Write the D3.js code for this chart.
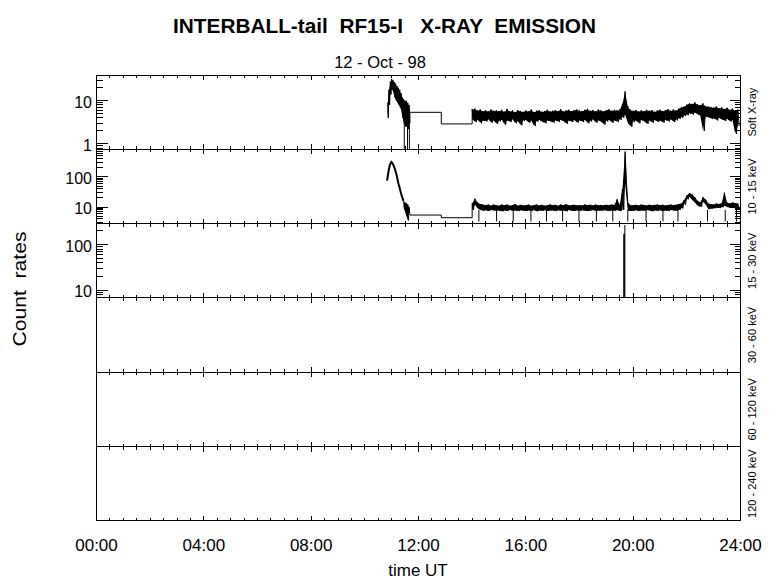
<!DOCTYPE html>
<html><head><meta charset="utf-8">
<script src="https://cdn.jsdelivr.net/npm/d3@7"></script>
<style>
body{margin:0;background:#fff}
svg{display:block}
text{font-family:"Liberation Sans",Arial,sans-serif;fill:#000;white-space:pre}
</style>
</head><body>
<svg id="c" width="780" height="579"></svg>
<script>
// ---------------- DATA ----------------
const xTickLabels = ["00:00","04:00","08:00","12:00","16:00","20:00","24:00"];
const xTickHours  = [0,4,8,12,16,20,24];
const channelLabels = ["Soft X-ray","10 - 15 keV","15 - 30 keV","30 - 60 keV","60 - 120 keV","120 - 240 keV"];
const yDomains = [[0.748,39.6],[2.8,835],[6.8,290]];
const yTickLabels = [[1,10],[10,100],[10,100]];

// Soft X-ray: flare envelope (hours, max, min)
const sxFlareT  = [10.85,10.90,10.95,11.00,11.05,11.10,11.15,11.20,11.25,11.30,11.35,11.40,11.45,11.50,11.55,11.60,11.65];
const sxFlareHi = [9,18,28,32,30,27,25,22,20,18,15,12,11,10,10,9,8];
const sxFlareLo = [4,8,14,18,16,12,10,9,8,7,6,4,3,2.5,2.5,2.2,3];
const sxFlareDropT = [11.47,11.59,11.66];
// Soft X-ray: data-gap plateau corners
const sxStepT = [11.68,12.85,12.85,14.0];
const sxStepV = [5.4,5.4,2.9,2.9];
// Soft X-ray: noise band 14.0 .. 23.9 h every 0.1 h (max / min)
const sxHi = [6.4,6.6,6.0,6.3,5.8,6.1,5.7,6.3,5.9,6.0,
              5.8,6.2,5.6,6.5,5.7,6.0,5.5,6.1,5.8,5.6,
              6.0,5.7,6.3,5.5,5.9,6.1,5.6,5.8,6.2,5.7,
              5.9,6.1,5.8,6.4,5.7,6.0,6.2,5.8,6.1,6.3,
              6.0,5.8,6.2,6.5,5.9,6.1,5.7,6.3,6.0,5.8,
              6.1,6.4,5.9,6.2,6.0,6.3,8.5,16.5,7.5,6.2,
              5.9,6.1,5.7,6.0,5.8,6.2,5.9,6.1,5.6,6.0,
              6.2,5.8,6.1,6.4,5.9,6.3,6.0,6.6,7.2,7.4,
              8.2,8.8,8.5,9.2,8.3,8.0,8.7,7.6,7.4,7.2,
              7.0,7.4,6.8,7.1,6.5,6.9,6.2,6.6,6.0,6.3];
const sxLo = [3.6,3.2,3.5,3.0,3.4,3.3,3.6,3.1,3.4,2.9,
              3.3,3.5,2.8,3.4,3.2,3.6,3.0,3.3,2.7,3.4,
              3.5,3.1,3.4,2.6,3.3,3.5,3.2,3.0,3.4,3.3,
              3.1,3.4,3.2,3.5,3.3,2.9,3.4,3.2,3.5,3.1,
              3.4,3.2,3.5,3.0,3.3,3.6,3.1,3.4,3.2,2.8,
              3.3,3.5,3.1,3.4,3.2,3.6,4.0,4.6,3.0,2.5,
              3.2,3.4,3.0,3.5,3.3,2.9,3.4,3.1,3.5,3.2,
              3.4,3.1,3.5,3.3,3.6,3.2,3.5,3.8,4.0,4.4,
              4.6,5.0,4.8,5.2,4.7,4.4,2.0,4.2,4.0,3.8,
              3.8,3.5,3.9,3.6,3.4,3.7,3.3,3.5,1.7,2.6];

// 10-15 keV: flare profile
const hxFlareT = [10.83,10.88,10.93,10.99,11.04,11.09,11.13,11.19,11.25,11.30,11.35,11.40,11.44];
const hxFlareV = [75,150,250,316,280,220,175,110,62,42,28,20,16];
const hxTailT  = [11.45,11.50,11.55,11.60,11.65];
const hxTailHi = [15,14,13,12,10];
const hxTailLo = [9,7,5,3.6,6];
const hxStepT = [11.68,12.85,12.85,14.0];
const hxStepV = [5.4,5.4,4.4,4.4];
const hxHi = [13,19,14,12.5,12,11.5,12,11,12,11.5,
              11,12,11.5,12,11,11.5,12.5,11,11.8,11.2,
              11.5,12,11,11.6,12,11.2,11.8,11,11.5,12,
              11.4,11.8,11,12,11.5,12.5,11.2,11.6,11.8,11.3,
              11.6,11.2,12.2,11.5,11.8,11.3,12,11.4,11.7,11.5,
              11.8,11.4,12,11.6,18,11.8,40,700,14,11.5,
              11.5,11.8,11.2,12,11.6,11.3,11.9,11.4,11.7,12,
              11.5,11.8,11.2,11.7,12,11.4,11.8,12.5,13,17,
              24,29,26,21,16,14,21,18,13,12.5,
              12,13,12.5,13.5,30,14,13,14,13.5,13];
const hxLo = [8,12,9,8,7.5,7.8,7.4,7.9,7.6,7.8,
              7.5,7.2,7.7,7.4,7.9,7.5,7.6,7.3,7.8,7.5,
              7.4,7.7,7.5,7.9,7.2,7.6,7.5,7.8,7.4,7.7,
              7.6,7.3,7.8,7.5,7.7,7.2,7.9,7.5,7.4,7.7,
              7.5,7.8,7.5,7.3,7.7,7.9,7.4,7.6,7.5,7.8,
              7.6,7.4,7.7,7.5,7.9,7.4,8,60,7.6,7.3,
              7.5,7.8,7.4,7.7,7.5,7.9,7.6,7.2,7.7,7.5,
              7.8,7.4,7.7,7.3,7.9,7.6,7.5,8.0,9,12,
              18,22,17,14,11,10,15,12,8.5,8.8,
              9,9.5,9.2,9.8,11,10,9.5,10,9.2,8.8];
const hxDropT = [14.25,14.91,15.53,16.19,16.77,17.37,17.98,18.63,19.24,19.80,20.48,21.11,21.67,22.77,23.43,23.85];
const hxDropV = 3.3;

// 15-30 keV: spike only
const mxSpikeT = [19.65,19.67,19.69];
const mxSpikeV = [170,175,270];

// ---------------- CHART ----------------
const svg = d3.select('#c');
const x = d3.scaleLinear().domain([0,24]).range([96.5,740.5]);
const top0 = 75, ph = 74.3, nP = 6;
const pTop = i => top0 + i*ph;
const pBot = i => top0 + (i+1)*ph;

const ys = yDomains.map((d,i)=>d3.scaleLog().domain(d).range([pBot(i),pTop(i)]));

const defs = svg.append('defs');
for (let i=0;i<nP;i++){
  defs.append('clipPath').attr('id','cp'+i).append('rect')
    .attr('x',x(0)).attr('y',pTop(i)).attr('width',x(24)-x(0)).attr('height',ph);
}

// helpers
function zig(ts,hi,lo,half){const p=[];ts.forEach((t,i)=>{p.push([t,hi[i]]);p.push([t+half,lo[i]]);});return p;}
const line = y => d3.line().x(d=>x(d[0])).y(d=>y(d[1]));
function band(g,y,ts,hi,lo,k){
  const d=ts.map((t,i)=>({t,hi:hi[i],lo:lo[i]}));
  const ar=d3.area().x(p=>x(p.t)).y0(p=>y(p.lo*k)).y1(p=>y(p.hi/k));
  g.append('path').attr('d',ar(d)).attr('fill','#000').attr('stroke','none');
}
const dataG = svg.append('g').attr('fill','none').attr('stroke','#000').attr('stroke-width',1);

// panel 1
{
  const y=ys[0];
  const g=dataG.append('g').attr('clip-path','url(#cp0)');
  const nT=sxHi.map((_,i)=>14+i*0.1);
  band(g,y,sxFlareT,sxFlareHi,sxFlareLo,1.05);
  band(g,y,nT,sxHi,sxLo,1.03);
  const pts=[].concat(zig(sxFlareT,sxFlareHi,sxFlareLo,0.025), sxStepT.map((t,i)=>[t,sxStepV[i]]), zig(nT,sxHi,sxLo,0.05));
  g.append('path').attr('d',line(y)(pts));
  sxFlareDropT.forEach(t=>g.append('line').attr('x1',x(t)).attr('x2',x(t)).attr('y1',y(5)).attr('y2',pBot(0)));
}
// panel 2
{
  const y=ys[1];
  const g=dataG.append('g').attr('clip-path','url(#cp1)');
  const nT=hxHi.map((_,i)=>14+i*0.1);
  band(g,y,hxTailT,hxTailHi,hxTailLo,1.0);
  band(g,y,nT,hxHi,hxLo,1.0);
  g.append('path').attr('d',line(y)(hxFlareT.map((t,i)=>[t,hxFlareV[i]]))).attr('stroke-width',2);
  const pts=[].concat([[hxFlareT[hxFlareT.length-1],hxFlareV[hxFlareV.length-1]]], zig(hxTailT,hxTailHi,hxTailLo,0.025),
    hxStepT.map((t,i)=>[t,hxStepV[i]]), zig(nT,hxHi,hxLo,0.05));
  g.append('path').attr('d',line(y)(pts));
  hxDropT.forEach(t=>g.append('line').attr('x1',x(t)).attr('x2',x(t)).attr('y1',y(8)).attr('y2',y(hxDropV)));
}
// panel 3
{
  const y=ys[2];
  const g=dataG.append('g').attr('clip-path','url(#cp2)');
  mxSpikeT.forEach((t,i)=>g.append('line').attr('x1',x(t)).attr('x2',x(t)).attr('y1',y(mxSpikeV[i])).attr('y2',pBot(2)));
}

// frame & ticks
const frame = svg.append('g').attr('shape-rendering','crispEdges').attr('stroke','#000').attr('stroke-width',1).attr('fill','none');
for (let i=0;i<nP;i++){
  frame.append('rect').attr('x',x(0)).attr('y',pTop(i)).attr('width',x(24)-x(0)).attr('height',ph);
  const xt = d3.range(0,24.001,0.5);
  xt.forEach(t=>{
    const major = Math.abs(t%4)<1e-6;
    const len = major?5:3;
    frame.append('line').attr('x1',x(t)).attr('x2',x(t)).attr('y1',pTop(i)).attr('y2',pTop(i)+len);
    frame.append('line').attr('x1',x(t)).attr('x2',x(t)).attr('y1',pBot(i)).attr('y2',pBot(i)-len);
  });
}
ys.forEach((y,i)=>{
  const [lo,hi]=y.domain();
  for (let d=Math.floor(Math.log10(lo)); d<=Math.ceil(Math.log10(hi)); d++){
    for (let m=1;m<=9;m++){
      const v=m*Math.pow(10,d);
      if (v<lo||v>hi) continue;
      const len = m===1?11:6;
      const yy=y(v);
      frame.append('line').attr('x1',x(0)).attr('x2',x(0)+len).attr('y1',yy).attr('y2',yy);
      frame.append('line').attr('x1',x(24)).attr('x2',x(24)-len).attr('y1',yy).attr('y2',yy);
    }
  }
  yTickLabels[i].forEach(v=>{
    svg.append('text').attr('x',92).attr('y',y(v)+1.5).attr('text-anchor','end')
      .attr('dominant-baseline','central').attr('font-size',16).text(v);
  });
});

// x tick labels
xTickHours.forEach((h,i)=>{
  svg.append('text').attr('x',x(h)).attr('y',551).attr('text-anchor','middle').attr('font-size',17).text(xTickLabels[i]);
});
svg.append('text').attr('x',418).attr('y',576).attr('text-anchor','middle').attr('font-size',17).text('time UT');

// channel labels on right
channelLabels.forEach((s,i)=>{
  const cy=(pTop(i)+pBot(i))/2;
  svg.append('text').attr('transform',`translate(756,${cy}) rotate(-90)`).attr('text-anchor','middle')
    .attr('font-size',11).text(s);
});

// left title
svg.append('text').attr('transform','translate(26,289) rotate(-90)').attr('text-anchor','middle')
  .attr('font-size',19).attr('textLength',115).attr('lengthAdjust','spacingAndGlyphs').text('Count  rates');

// titles
svg.append('text').attr('x',384.5).attr('y',33).attr('text-anchor','middle').attr('font-size',21).attr('font-weight','bold')
  .attr('textLength',423).attr('lengthAdjust','spacingAndGlyphs').text('INTERBALL-tail  RF15-I   X-RAY  EMISSION');
svg.append('text').attr('x',380).attr('y',68).attr('text-anchor','middle').attr('font-size',16.5).text('12 - Oct - 98');
</script>
</body></html>
